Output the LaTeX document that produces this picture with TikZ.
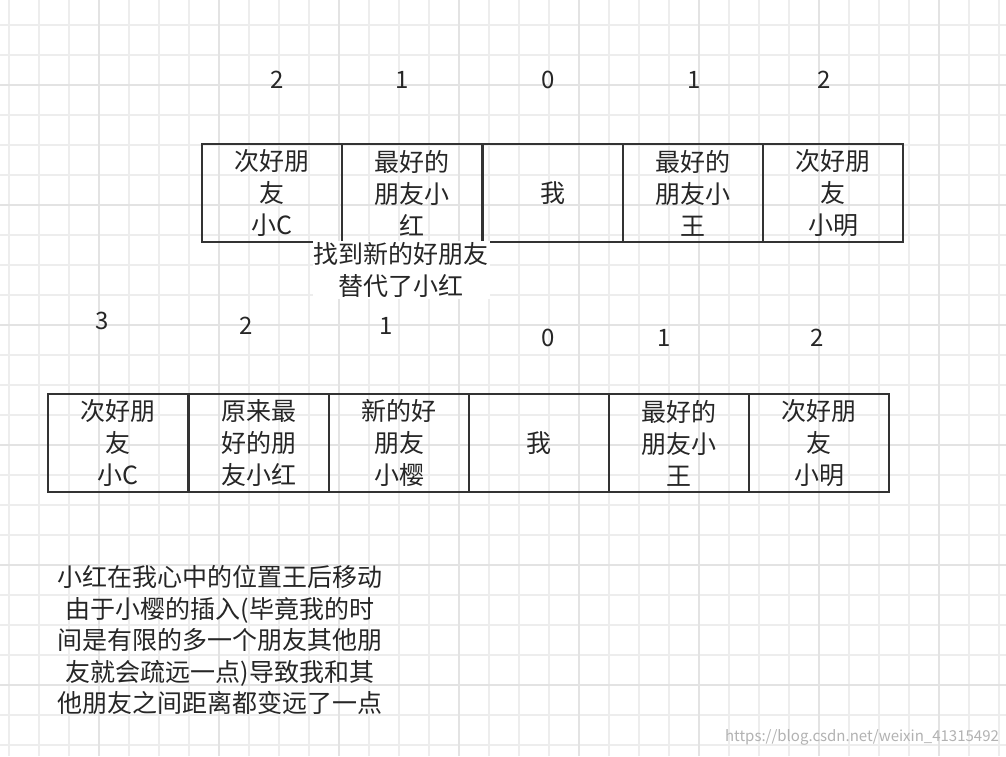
\documentclass[tikz,border=0pt]{standalone}
\usepackage{fontspec}
\setmainfont{Noto Sans CJK SC}
\begin{document}
\begin{tikzpicture}[x=1pt,y=-1pt,
 cell/.style={draw=black!80,line width=2.2pt,minimum width=140pt,minimum height=98pt,anchor=north west,inner sep=0pt,align=center,font=\fontsize{25}{32}\selectfont,text=black!85},
 num/.style={font=\fontsize{24}{28}\selectfont,text=black!85},
 lab/.style={align=center,font=\fontsize{25}{32}\selectfont,text=black!85}]
\useasboundingbox (0,0) rectangle (1006,756);
\fill[white] (0,0) rectangle (1006,756);
\foreach \i in {0,...,33}{\draw[black!7,line width=1.2pt] (9+30*\i,0) -- (9+30*\i,756);}
\foreach \j in {0,...,25}{\draw[black!7,line width=1.2pt] (0,25+30*\j) -- (1006,25+30*\j);}
\foreach \i in {0,...,8}{\draw[black!11,line width=1.2pt] (99+120*\i,0) -- (99+120*\i,756);}
\foreach \j in {0,...,6}{\draw[black!11,line width=1.2pt] (0,85+120*\j) -- (1006,85+120*\j);}
% row 1
\node[cell] (a1) at (201,143) {次好朋\\友\\小C};
\node[cell] (a2) at (341,143) {最好的\\朋友小\\红};
\node[cell] (a3) at (482,143) {我};
\node[cell] (a4) at (622,143) {最好的\\朋友小\\王};
\node[cell] (a5) at (762,143) {次好朋\\友\\小明};
\node[num] (n1) at (277,80) {2};
\node[num] (n2) at (402,80) {1};
\node[num] (n3) at (548,80) {0};
\node[num] (n4) at (694,80) {1};
\node[num] (n5) at (824,80) {2};
\node[lab,fill=white,inner sep=1pt] (mid) at (401,270) {找到新的好朋友\\替代了小红};
% row 2
\node[cell] (b1) at (47,393) {次好朋\\友\\小C};
\node[cell] (b2) at (188,393) {原来最\\好的朋\\友小红};
\node[cell] (b3) at (328,393) {新的好\\朋友\\小樱};
\node[cell] (b4) at (468,393) {我};
\node[cell] (b5) at (608,393) {最好的\\朋友小\\王};
\node[cell] (b6) at (748,393) {次好朋\\友\\小明};
\node[num] (m1) at (102,321) {3};
\node[num] (m2) at (246,326) {2};
\node[num] (m3) at (386,326) {1};
\node[num] (m4) at (548,338) {0};
\node[num] (m5) at (664,338) {1};
\node[num] (m6) at (817,338) {2};
\node[lab,font=\fontsize{25}{31.5}\selectfont] (txt) at (220,640) {小红在我心中的位置王后移动\\由于小樱的插入(毕竟我的时\\间是有限的多一个朋友其他朋\\友就会疏远一点)导致我和其\\他朋友之间距离都变远了一点};
\node[text=black!30,font=\fontsize{15}{17}\selectfont] (wm) at (862,737) {https://blog.csdn.net/weixin\_41315492};
\end{tikzpicture}
\end{document}
